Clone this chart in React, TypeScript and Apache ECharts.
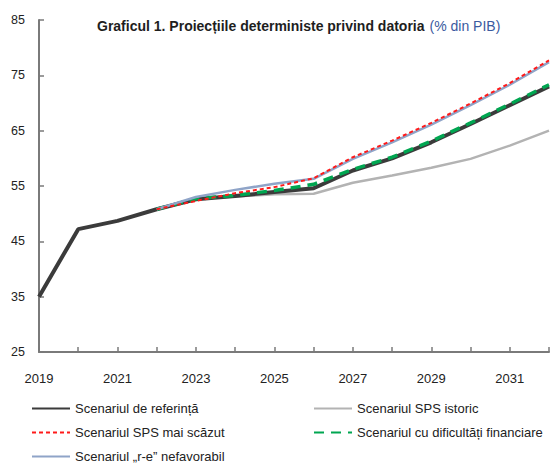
import React, { useEffect, useRef } from "react";
import * as echarts from "echarts";

const years = ["2019", "2020", "2021", "2022", "2023", "2024", "2025", "2026", "2027", "2028", "2029", "2030", "2031", "2032"];
const yTicks = { min: 25, max: 85, step: 10 };

const refScenario = [35, 47.2, 48.7, 50.8, 52.6, 53.2, 53.9, 54.6, 57.8, 60.0, 62.9, 66.2, 69.6, 73.0];
const spsIstoric = [null, null, null, 50.8, 52.8, 53.1, 53.5, 53.6, 55.6, 56.9, 58.3, 59.9, 62.3, 65.0];
const spsScazut = [null, null, null, 50.8, 52.3, 53.7, 54.8, 56.4, 60.2, 63.2, 66.4, 69.9, 73.6, 77.7];
const dificultati = [null, null, null, 50.8, 52.7, 53.3, 54.2, 55.3, 58.0, 60.2, 63.1, 66.4, 69.8, 73.3];
const reNefavorabil = [null, null, null, 50.8, 53.0, 54.3, 55.4, 56.3, 59.9, 62.9, 66.1, 69.6, 73.3, 77.4];

const names = {
  ref: "Scenariul de referință",
  ist: "Scenariul SPS istoric",
  low: "Scenariul SPS mai scăzut",
  fin: "Scenariul cu dificultăți financiare",
  re: "Scenariul „r-e” nefavorabil",
};

const FONT = "'Liberation Sans', Arial, sans-serif";

export default function App() {
  const ref = useRef<HTMLDivElement>(null);
  useEffect(() => {
    if (!ref.current) return;
    const chart = echarts.init(ref.current, null, { renderer: "svg" });
    const legendText = { fontSize: 13, color: "#222", fontFamily: FONT };
    const legendCommon = {
      orient: "vertical",
      top: 402,
      padding: 0,
      itemWidth: 38,
      itemHeight: 14,
      itemGap: 11,
      textStyle: legendText,
      itemStyle: { opacity: 0 },
    };
    chart.setOption({
      animation: false,
      backgroundColor: "#ffffff",
      textStyle: { fontFamily: FONT },
      title: {
        text: "{a|Graficul 1. Proiecțiile deterministe privind datoria} {b|(% din PIB)}",
        left: 97,
        top: 17,
        padding: 0,
        textStyle: {
          rich: {
            a: { fontSize: 14, fontWeight: "bold", color: "#1e1e1e", fontFamily: FONT },
            b: { fontSize: 14, fontWeight: "normal", color: "#3a5aa0", fontFamily: FONT },
          },
        },
      },
      grid: { left: 39, right: 9, top: 20, bottom: 113, containLabel: false },
      legend: [
        { ...legendCommon, left: 31, data: [names.ref, names.low, names.re] },
        { ...legendCommon, left: 313, data: [names.ist, names.fin] },
      ],
      xAxis: {
        type: "category",
        data: years,
        boundaryGap: false,
        axisLine: { show: true, lineStyle: { color: "#7a7a7a", width: 2 } },
        axisTick: { show: true, inside: true, length: 5, interval: 0, lineStyle: { color: "#7a7a7a", width: 1.5 } },
        axisLabel: { interval: 1, fontSize: 13, color: "#222", margin: 20, fontFamily: FONT },
        splitLine: { show: false },
      },
      yAxis: {
        type: "value",
        min: yTicks.min,
        max: yTicks.max,
        interval: yTicks.step,
        axisLine: { show: true, lineStyle: { color: "#7a7a7a", width: 2 } },
        axisTick: { show: true, inside: true, length: 5, lineStyle: { color: "#7a7a7a", width: 1.5 } },
        axisLabel: { fontSize: 12.5, color: "#222", margin: 14, fontFamily: FONT },
        splitLine: { show: false },
      },
      series: [
        {
          name: names.ist,
          type: "line",
          data: spsIstoric,
          symbol: "none",
          lineStyle: { color: "#b3b3b3", width: 2.5 },
          itemStyle: { color: "#b3b3b3" },
        },
        {
          name: names.ref,
          type: "line",
          data: refScenario,
          symbol: "none",
          lineStyle: { color: "#3b3b3b", width: 4 },
          itemStyle: { color: "#3b3b3b" },
        },
        {
          name: names.fin,
          type: "line",
          data: dificultati,
          symbol: "none",
          lineStyle: { color: "#00a651", width: 3.5, type: [10, 7] },
          itemStyle: { color: "#00a651" },
        },
        {
          name: names.re,
          type: "line",
          data: reNefavorabil,
          symbol: "none",
          lineStyle: { color: "#8fa4c8", width: 2.5 },
          itemStyle: { color: "#8fa4c8" },
        },
        {
          name: names.low,
          type: "line",
          data: spsScazut,
          symbol: "none",
          lineStyle: { color: "#ff1a1a", width: 2, type: [4, 3] },
          itemStyle: { color: "#ff1a1a" },
        },
      ],
    });
    return () => chart.dispose();
  }, []);
  return (
    <div
      ref={ref}
      style={{ position: "fixed", left: 0, top: 0, width: 558, height: 465, background: "#fff" }}
    />
  );
}
